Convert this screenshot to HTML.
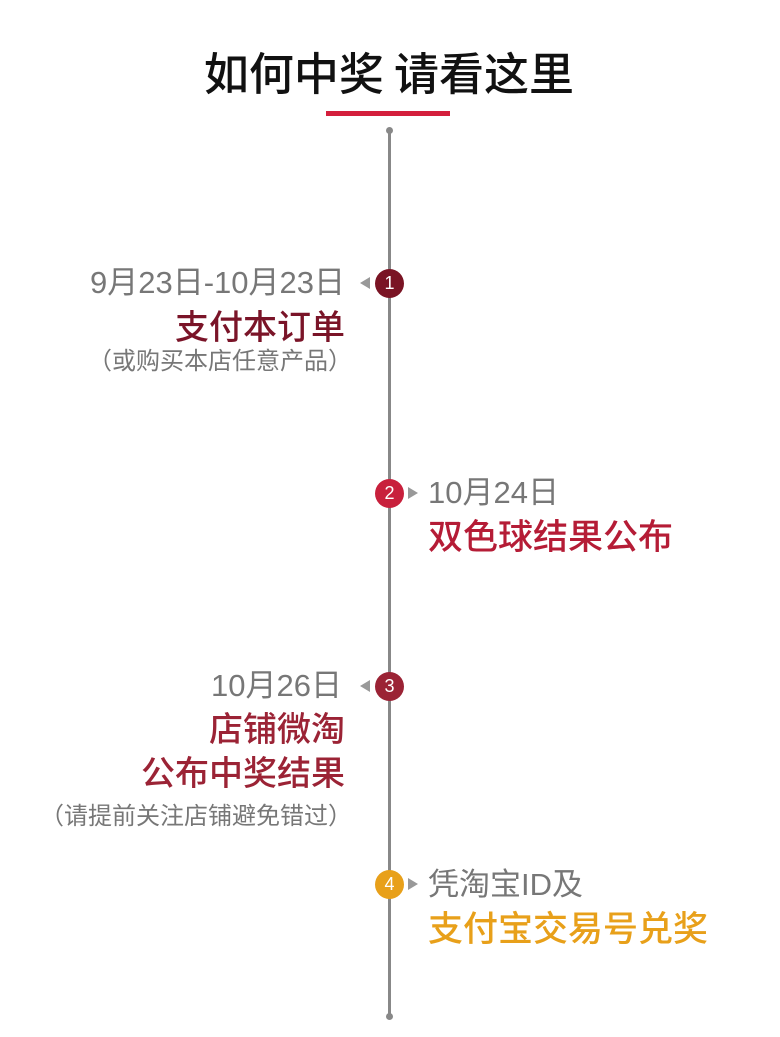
<!DOCTYPE html>
<html><head><meta charset="utf-8"><style>
html,body{margin:0;padding:0;background:#fff;}
body{width:780px;height:1037px;position:relative;overflow:hidden;font-family:"Liberation Sans","Noto Sans CJK SC",sans-serif;}
.t{position:absolute;white-space:nowrap;line-height:1;}
.r{text-align:right;}
.g{color:#777;}
.b{font-family:"Noto Sans CJK SC",sans-serif;font-weight:500;}
.c{position:absolute;width:29px;height:29px;border-radius:50%;color:#fff;font-size:18px;line-height:29px;text-align:center;}
.al{position:absolute;width:0;height:0;border-top:6px solid transparent;border-bottom:6px solid transparent;border-right:10px solid #999;}
.ar{position:absolute;width:0;height:0;border-top:6px solid transparent;border-bottom:6px solid transparent;border-left:10px solid #999;}
</style></head><body>
<div class="t b" style="left:0;width:778px;text-align:center;top:48px;font-size:45px;color:#111;">如何中奖 请看这里</div>
<div style="position:absolute;left:326px;top:111px;width:124px;height:5px;background:#d41f3c;"></div>
<div style="position:absolute;left:388px;top:130px;width:3px;height:887px;background:#888;"></div>
<div style="position:absolute;left:386px;top:127px;width:7px;height:7px;border-radius:50%;background:#888;"></div>
<div style="position:absolute;left:386px;top:1013px;width:7px;height:7px;border-radius:50%;background:#888;"></div>

<div class="t r g" style="right:435px;top:267px;font-size:31px;">9月23日-10月23日</div>
<div class="t r b" style="right:435px;top:308px;font-size:34px;color:#7a1428;">支付本订单</div>
<div class="t r g" style="right:428px;top:350px;font-size:24px;">（或购买本店任意产品）</div>
<div class="al" style="left:360px;top:277px;"></div>
<div class="c" style="left:375px;top:269px;background:#7a1424;">1</div>

<div class="c" style="left:375px;top:479px;background:#c8203c;">2</div>
<div class="ar" style="left:408px;top:487px;"></div>
<div class="t g" style="left:428px;top:477px;font-size:31px;">10月24日</div>
<div class="t b" style="left:428px;top:517px;font-size:35px;color:#b51c36;">双色球结果公布</div>

<div class="t r g" style="right:438px;top:670px;font-size:31px;">10月26日</div>
<div class="al" style="left:360px;top:680px;"></div>
<div class="c" style="left:375px;top:672px;background:#9b2335;">3</div>
<div class="t r b" style="right:435px;top:710px;font-size:34px;color:#9b2335;">店铺微淘</div>
<div class="t r b" style="right:435px;top:754px;font-size:34px;color:#9b2335;">公布中奖结果</div>
<div class="t r g" style="right:428px;top:805px;font-size:24px;">（请提前关注店铺避免错过）</div>

<div class="c" style="left:375px;top:870px;background:#e8a01a;">4</div>
<div class="ar" style="left:408px;top:878px;"></div>
<div class="t g" style="left:428px;top:869px;font-size:31px;">凭淘宝ID及</div>
<div class="t b" style="left:428px;top:909px;font-size:35px;color:#e8a01a;">支付宝交易号兑奖</div>
</body></html>
